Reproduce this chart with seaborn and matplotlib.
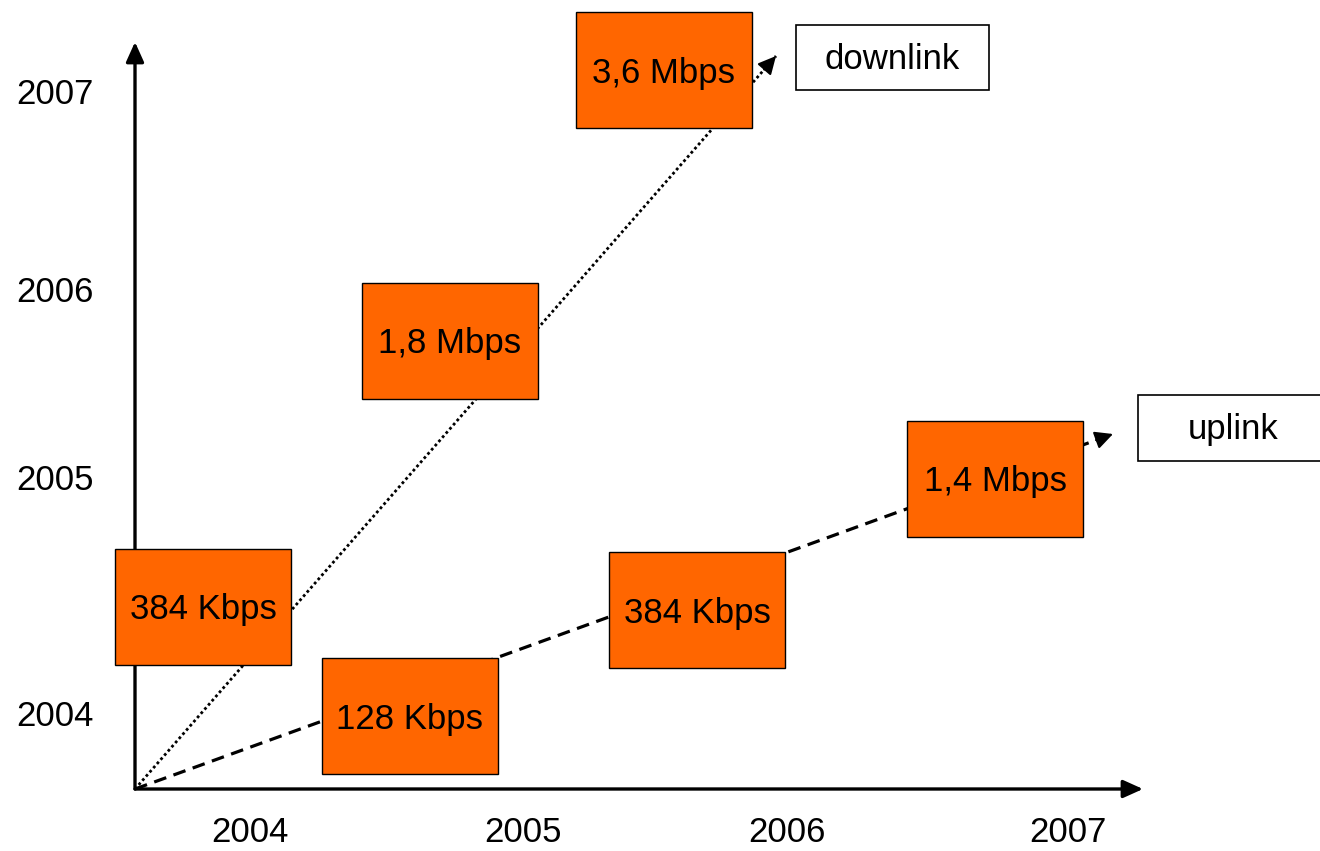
import matplotlib
matplotlib.use("Agg")
import matplotlib.pyplot as plt
import seaborn as sns
import pandas as pd
from matplotlib.patches import Rectangle

# diagram coordinates (pixel-like units, y grows downward)
origin = (135, 789)
x_axis_end = 1143
y_axis_end = 42

x_year_labels = ["2004", "2005", "2006", "2007"]
x_year_pos = [250, 523, 787, 1068]
y_year_labels = ["2007", "2006", "2005", "2004"]
y_year_pos = [95, 292, 480, 716]

# rate boxes
down_rates = ["384 Kbps", "1,8 Mbps", "3,6 Mbps"]
down_cx = [203, 450, 664]
down_cy = [607, 341, 70]
up_rates = ["128 Kbps", "384 Kbps", "1,4 Mbps"]
up_cx = [410, 697, 995]
up_cy = [716, 610, 479]
box_w, box_h = 176, 116

# trend lines and their labels
link_names = ["downlink", "uplink"]
link_tip_x = [776, 1113]
link_tip_y = [56, 434]
label_x0 = [796, 1138]
label_y0 = [25, 395]
label_w = [193, 190]
label_h = [65, 66]


def main():
    sns.set_theme(style="white")
    plt.rcParams['font.family'] = ['Liberation Sans', 'DejaVu Sans']
    plt.rcParams['text.color'] = 'black'

    fig = plt.figure(figsize=(13.2, 8.51), dpi=100)
    ax = fig.add_axes([0, 0, 1, 1])
    ax.set_xlim(0, 1320)
    ax.set_ylim(851, 0)
    ax.axis("off")

    # trend lines from the origin
    rows = []
    for name, tx, ty in zip(link_names, link_tip_x, link_tip_y):
        rows.append({"link": name, "x": origin[0], "y": origin[1], "step": 0})
        rows.append({"link": name, "x": tx, "y": ty, "step": 1})
    df = pd.DataFrame(rows)
    sns.lineplot(data=df, x="x", y="y", style="link", units="link",
                 estimator=None, sort=False, color="black",
                 dashes={"downlink": (1, 1), "uplink": (4, 2.4)},
                 size="link", sizes={"downlink": 2.0, "uplink": 2.3},
                 legend=False, ax=ax, zorder=1)
    for tx, ty in zip(link_tip_x, link_tip_y):
        dx, dy = tx - origin[0], ty - origin[1]
        n = (dx ** 2 + dy ** 2) ** 0.5
        ax.annotate("", xy=(tx, ty), xytext=(tx - dx / n * 18, ty - dy / n * 18),
                    arrowprops=dict(arrowstyle="-|>,head_length=0.9,head_width=0.45",
                                    color="black", lw=1.5, shrinkA=0, shrinkB=0),
                    zorder=2)

    # axes with arrows
    ax.annotate("", xy=(origin[0], y_axis_end), xytext=origin,
                arrowprops=dict(arrowstyle="-|>,head_length=1.0,head_width=0.45",
                                color="black", lw=2.4, shrinkA=0, shrinkB=0))
    ax.annotate("", xy=(x_axis_end, origin[1]), xytext=origin,
                arrowprops=dict(arrowstyle="-|>,head_length=1.0,head_width=0.45",
                                color="black", lw=2.4, shrinkA=0, shrinkB=0))

    for lab, x in zip(x_year_labels, x_year_pos):
        ax.text(x, 832, lab, ha="center", va="center", fontsize=25, color="black")
    for lab, y in zip(y_year_labels, y_year_pos):
        ax.text(55, y, lab, ha="center", va="center", fontsize=25, color="black")

    # orange rate boxes
    for rates, cxs, cys in [(down_rates, down_cx, down_cy), (up_rates, up_cx, up_cy)]:
        for r, cx, cy in zip(rates, cxs, cys):
            ax.add_patch(Rectangle((cx - box_w / 2, cy - box_h / 2), box_w, box_h,
                                   facecolor="#ff6600", edgecolor="black", lw=1.0, zorder=3))
            ax.text(cx, cy + 3, r, ha="center", va="center", fontsize=25,
                    color="black", zorder=4)

    # link label boxes
    for name, x0, y0, w, h in zip(link_names, label_x0, label_y0, label_w, label_h):
        ax.add_patch(Rectangle((x0, y0), w, h, facecolor="white",
                               edgecolor="black", lw=1.2, zorder=3))
        ax.text(x0 + w / 2, y0 + h / 2 + 2, name, ha="center", va="center",
                fontsize=25, color="black", zorder=4)

    fig.savefig("out.png", dpi=100)
    plt.close(fig)


if __name__ == '__main__':
    main()
